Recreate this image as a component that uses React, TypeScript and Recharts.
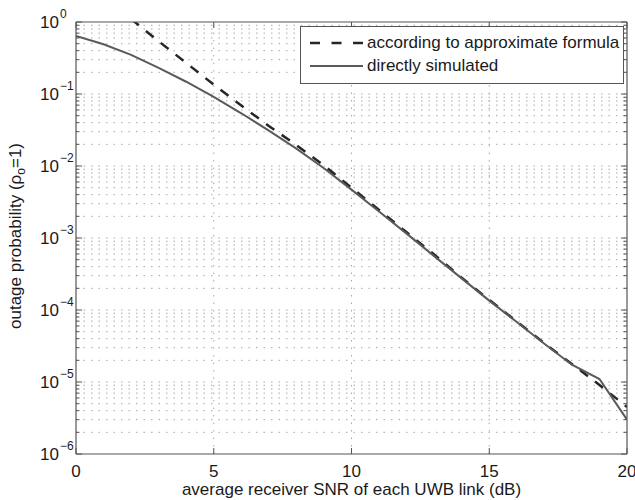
import { LineChart, Line, XAxis, YAxis, ReferenceLine, Legend, Label } from "recharts";

// average receiver SNR (dB)
const snrDb = [0, 1, 2, 3, 4, 5, 6, 7, 8, 9, 10, 11, 12, 13, 14, 15, 16, 17, 18, 19, 20];

// outage probability
const approxFormula = [
  null, null, 1.1, 0.54, 0.27, 0.135, 0.069, 0.036, 0.0195, 0.0102, 0.005,
  0.00245, 0.0012, 5.9e-4, 2.8e-4, 1.38e-4, 6.9e-5, 3.45e-5, 1.78e-5, 9.1e-6, 4.5e-6,
];
const directlySimulated = [
  0.64, 0.49, 0.35, 0.23, 0.148, 0.091, 0.054, 0.031, 0.0174, 0.0093, 0.0047,
  0.00234, 0.00115, 5.6e-4, 2.75e-4, 1.35e-4, 6.8e-5, 3.4e-5, 1.74e-5, 1.1e-5, 3.0e-6,
];

const xTicks = [0, 5, 10, 15, 20];
const xGrid = [5, 10, 15];
const yMajor = [1e-6, 1e-5, 1e-4, 1e-3, 1e-2, 1e-1, 1];
const yMinor = yMajor.slice(0, -1).flatMap((d) => [2, 3, 4, 5, 6, 7, 8, 9].map((m) => m * d));
const yTicks = [...yMajor, ...yMinor].sort((a, b) => a - b);

const data = snrDb.map((snr, i) => ({
  snr,
  approx: approxFormula[i],
  sim: directlySimulated[i],
}));

const FONT = '"Liberation Sans", Arial, Helvetica, sans-serif';
const FS = 17;
const TEXT = "#1a1a1a";
const AXIS = "#555";
const GRID = "#a8a8a8";
const DASHED = "#262626";
const SOLID = "#5a5a5a";

const isMajor = (v: number) => Math.abs(Math.log10(v) - Math.round(Math.log10(v))) < 1e-9;

const LeftTick = ({ x, y, payload }: any) => {
  const v = payload.value;
  const major = isMajor(v);
  const exp = Math.round(Math.log10(v));
  return (
    <g>
      <line x1={x} x2={x + (major ? 6 : 3.5)} y1={y} y2={y} stroke={AXIS} />
      {major && (
        <text x={x - 36} y={y + 6} fontSize={FS} fill={TEXT} fontFamily={FONT}>
          10
          <tspan dx={1} dy={-10} fontSize={12}>
            {exp === 0 ? "0" : `\u2212${-exp}`}
          </tspan>
        </text>
      )}
    </g>
  );
};

const RightTick = ({ x, y, payload }: any) => (
  <line x1={x} x2={x - (isMajor(payload.value) ? 6 : 3.5)} y1={y} y2={y} stroke={AXIS} />
);

const BottomTick = ({ x, y, payload }: any) => (
  <g>
    <line x1={x} x2={x} y1={y} y2={y - 6} stroke={AXIS} />
    <text x={x} y={y + 23} textAnchor="middle" fontSize={FS} fill={TEXT} fontFamily={FONT}>
      {payload.value}
    </text>
  </g>
);

const TopTick = ({ x, y }: any) => <line x1={x} x2={x} y1={y} y2={y + 6} stroke={AXIS} />;

const legendItems = [
  { key: "approx", label: "according to approximate formula", color: DASHED, dash: "10 11.5", width: 2.5 },
  { key: "sim", label: "directly simulated", color: SOLID, dash: undefined, width: 2 },
];

const LegendBox = () => (
  <div
    style={{
      border: `1px solid ${AXIS}`,
      background: "#fff",
      width: 322,
      height: 52,
      boxSizing: "content-box",
      paddingTop: 4,
      fontFamily: FONT,
      fontSize: FS,
      color: TEXT,
    }}
  >
    {legendItems.map((it) => (
      <div key={it.key} style={{ display: "flex", alignItems: "center", height: 23 }}>
        <svg width={66} height={23} style={{ flex: "none" }}>
          <line x1={9} x2={62} y1={12} y2={12} stroke={it.color} strokeWidth={it.width} strokeDasharray={it.dash} />
        </svg>
        <span style={{ whiteSpace: "nowrap" }}>{it.label}</span>
      </div>
    ))}
  </div>
);

export default function App() {
  return (
    <div style={{ position: "absolute", left: 0, top: 0, width: 635, height: 500, background: "#fff" }}>
      <LineChart width={635} height={500} data={data} margin={{ top: 0, right: 0, bottom: 0, left: 0 }}>
        <XAxis
          dataKey="snr"
          type="number"
          domain={[0, 20]}
          ticks={xTicks}
          interval={0}
          height={46}
          tickSize={0}
          tickMargin={0}
          tickLine={false}
          tick={<BottomTick />}
          axisLine={{ stroke: AXIS, strokeWidth: 1.2 }}
          allowDataOverflow
        >
          <Label
            content={({ viewBox }: any) => (
              <text
                x={viewBox.x + viewBox.width / 2}
                y={viewBox.y + 41}
                textAnchor="middle"
                fontSize={FS}
                fill={TEXT}
                fontFamily={FONT}
              >
                average receiver SNR of each UWB link (dB)
              </text>
            )}
          />
        </XAxis>
        <XAxis
          xAxisId="top"
          orientation="top"
          type="number"
          domain={[0, 20]}
          ticks={xTicks}
          interval={0}
          height={22}
          tickSize={0}
          tickMargin={0}
          tickLine={false}
          tick={<TopTick />}
          axisLine={{ stroke: AXIS, strokeWidth: 1.2 }}
          allowDataOverflow
        />
        <YAxis
          scale="log"
          type="number"
          domain={[1e-6, 1]}
          ticks={yTicks}
          interval={0}
          width={76}
          tickSize={0}
          tickMargin={0}
          tickLine={false}
          tick={<LeftTick />}
          axisLine={{ stroke: AXIS, strokeWidth: 1.2 }}
          allowDataOverflow
        >
          <Label
            content={({ viewBox }: any) => {
              const cx = viewBox.x + 21;
              const cy = viewBox.y + viewBox.height / 2 - 2;
              return (
                <text
                  x={cx}
                  y={cy}
                  transform={`rotate(-90 ${cx} ${cy})`}
                  textAnchor="middle"
                  fontSize={FS}
                  fill={TEXT}
                  fontFamily={FONT}
                >
                  outage probability (ρ
                  <tspan dy={4} fontSize={12}>o</tspan>
                  <tspan dy={-4}>=1)</tspan>
                </text>
              );
            }}
          />
        </YAxis>
        <YAxis
          yAxisId="right"
          orientation="right"
          scale="log"
          type="number"
          domain={[1e-6, 1]}
          ticks={yTicks}
          interval={0}
          width={8}
          tickSize={0}
          tickMargin={0}
          tickLine={false}
          tick={<RightTick />}
          axisLine={{ stroke: AXIS, strokeWidth: 1.2 }}
          allowDataOverflow
        />
        {yTicks
          .filter((v) => v > 1e-6 && v < 1)
          .map((v) => (
            <ReferenceLine key={`h${v}`} y={v} stroke={GRID} strokeDasharray="1.5 6" />
          ))}
        {xGrid.map((v) => (
          <ReferenceLine key={`v${v}`} x={v} stroke={GRID} strokeDasharray="1.5 6" />
        ))}
        <Line
          dataKey="approx"
          name="according to approximate formula"
          type="linear"
          stroke={DASHED}
          strokeWidth={2.5}
          strokeDasharray="10 9"
          dot={false}
          activeDot={false}
          isAnimationActive={false}
        />
        <Line
          dataKey="sim"
          name="directly simulated"
          type="linear"
          stroke={SOLID}
          strokeWidth={2}
          dot={false}
          activeDot={false}
          isAnimationActive={false}
        />
        <Legend
          layout="vertical"
          align="center"
          verticalAlign="middle"
          content={<LegendBox />}
          wrapperStyle={{ position: "absolute", top: 26, left: 300, width: 324, height: 58 }}
        />
      </LineChart>
    </div>
  );
}
